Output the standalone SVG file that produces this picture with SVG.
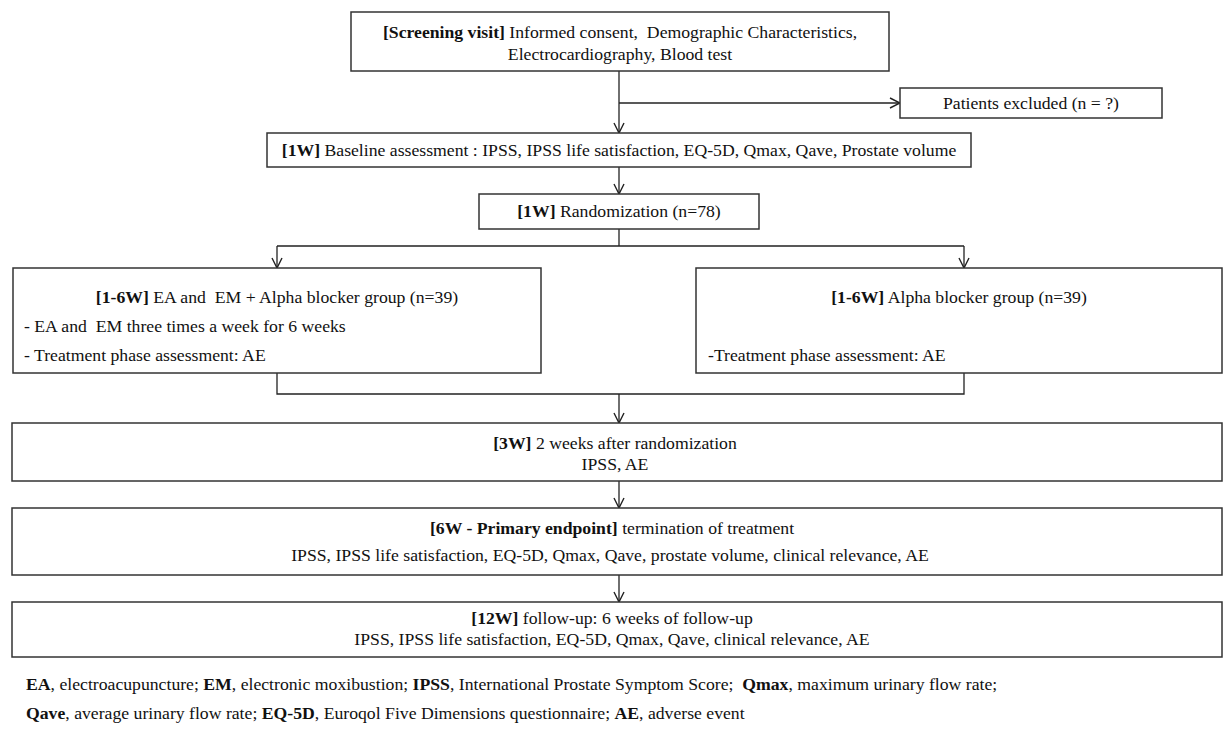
<svg xmlns="http://www.w3.org/2000/svg" width="1224" height="730" viewBox="0 0 1224 730">
<style>
.box{fill:#fff;stroke:#333;stroke-width:1.5}
.t{font-family:"Liberation Serif","Times New Roman",serif;font-size:17.7px;fill:#111}
.c{text-anchor:middle}
.f{font-family:"Liberation Serif","Times New Roman",serif;font-size:17.7px;fill:#111}
.b{font-weight:bold}
.ln{fill:none;stroke:#222;stroke-width:1.3}
</style>
<defs>
<marker id="ah" viewBox="0 0 12 12" refX="11" refY="6" markerWidth="12" markerHeight="12" markerUnits="userSpaceOnUse" orient="auto">
<path d="M1,1 L11,6 L1,11" fill="none" stroke="#222" stroke-width="1.4"/>
</marker>
</defs>
<rect width="1224" height="730" fill="#fff"/>
<g id="connectors">
<path class="ln" d="M619,71 V133" marker-end="url(#ah)"/>
<path class="ln" d="M619,103 H900" marker-end="url(#ah)"/>
<path class="ln" d="M619,167 V194" marker-end="url(#ah)"/>
<path class="ln" d="M619,229 V246 M277,246 H964"/>
<path class="ln" d="M277,246 V268" marker-end="url(#ah)"/>
<path class="ln" d="M964,246 V268" marker-end="url(#ah)"/>
<path class="ln" d="M277,373 V394 H964 V373"/>
<path class="ln" d="M619,394 V423" marker-end="url(#ah)"/>
<path class="ln" d="M619,481 V508" marker-end="url(#ah)"/>
<path class="ln" d="M619,575 V602" marker-end="url(#ah)"/>
</g>
<g id="screening">
<rect class="box" x="351" y="12" width="538" height="59"/>
<text class="t c" x="620" y="38"><tspan class="b">[Screening visit]</tspan> Informed consent,&#160; Demographic Characteristics,</text>
<text class="t c" x="620" y="60">Electrocardiography, Blood test</text>
</g>
<g id="excluded">
<rect class="box" x="900" y="88" width="262" height="30"/>
<text class="t c" x="1031" y="109">Patients excluded (n = ?)</text>
</g>
<g id="baseline">
<rect class="box" x="267" y="133" width="704" height="34"/>
<text class="t c" x="619" y="156"><tspan class="b">[1W]</tspan> Baseline assessment : IPSS, IPSS life satisfaction, EQ-5D, Qmax, Qave, Prostate volume</text>
</g>
<g id="randomization">
<rect class="box" x="479" y="194" width="280" height="35"/>
<text class="t c" x="619" y="217"><tspan class="b">[1W]</tspan> Randomization (n=78)</text>
</g>
<g id="group-ea">
<rect class="box" x="13" y="268" width="528" height="105"/>
<text class="t c" x="277" y="303"><tspan class="b">[1-6W]</tspan> EA and&#160; EM + Alpha blocker group (n=39)</text>
<text class="t" x="24" y="332">- EA and&#160; EM three times a week for 6 weeks</text>
<text class="t" x="24" y="361">- Treatment phase assessment: AE</text>
</g>
<g id="group-alpha">
<rect class="box" x="696" y="268" width="526" height="105"/>
<text class="t c" x="959" y="303"><tspan class="b">[1-6W]</tspan> Alpha blocker group (n=39)</text>
<text class="t" x="708" y="361">-Treatment phase assessment: AE</text>
</g>
<g id="w3">
<rect class="box" x="12" y="423" width="1210" height="58"/>
<text class="t c" x="615" y="449"><tspan class="b">[3W]</tspan> 2 weeks after randomization</text>
<text class="t c" x="615" y="470">IPSS, AE</text>
</g>
<g id="w6">
<rect class="box" x="12" y="508" width="1210" height="67"/>
<text class="t c" x="612" y="534"><tspan class="b">[6W - Primary endpoint]</tspan> termination of treatment</text>
<text class="t c" x="610" y="561">IPSS, IPSS life satisfaction, EQ-5D, Qmax, Qave, prostate volume, clinical relevance, AE</text>
</g>
<g id="w12">
<rect class="box" x="12" y="602" width="1210" height="55"/>
<text class="t c" x="612" y="624"><tspan class="b">[12W]</tspan> follow-up: 6 weeks of follow-up</text>
<text class="t c" x="612" y="645">IPSS, IPSS life satisfaction, EQ-5D, Qmax, Qave, clinical relevance, AE</text>
</g>
<g id="legend">
<text class="f" x="26" y="690"><tspan class="b">EA</tspan>, electroacupuncture; <tspan class="b">EM</tspan>, electronic moxibustion; <tspan class="b">IPSS</tspan>, International Prostate Symptom Score;&#160; <tspan class="b">Qmax</tspan>, maximum urinary flow rate;</text>
<text class="f" x="26" y="719"><tspan class="b">Qave</tspan>, average urinary flow rate; <tspan class="b">EQ-5D</tspan>, Euroqol Five Dimensions questionnaire; <tspan class="b">AE</tspan>, adverse event</text>
</g>
</svg>
